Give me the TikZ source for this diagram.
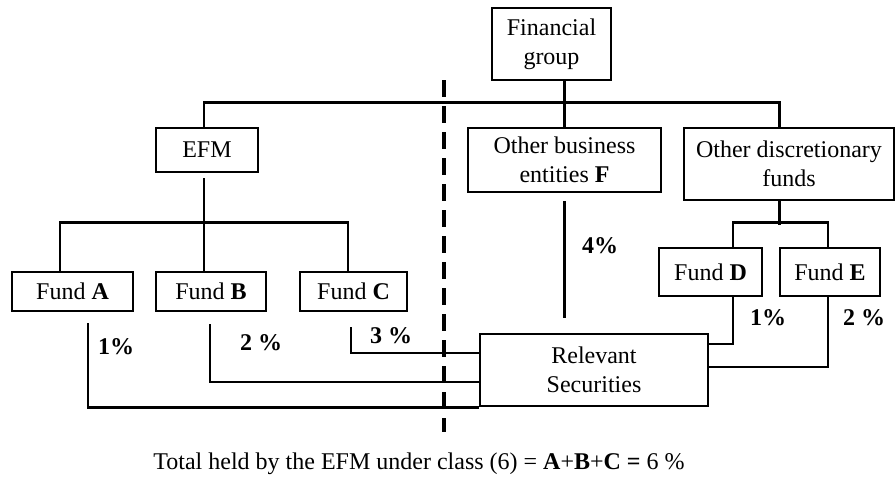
\documentclass[tikz,border=0pt]{standalone}
\usepackage{fontspec}
\setmainfont{Liberation Serif}
\usetikzlibrary{calc}
\begin{document}
\begin{tikzpicture}[x=0.5pt,y=-0.5pt,
  box/.style={draw, line width=1.3pt, inner sep=0pt, align=center, font=\fontsize{12}{14.5}\selectfont},
  conn/.style={line width=1.3pt},
  pct/.style={font=\fontsize{12}{14}\selectfont\bfseries, inner sep=0pt},
  dashline/.style={line width=2pt, dash pattern=on 8.5pt off 4.5pt}]
\useasboundingbox (0,0) rectangle (896,478);
% boxes
\node[box, minimum width=59.5pt, minimum height=36pt] (G) at (551.5,44) {Financial\\group};
\node[box, minimum width=51pt, minimum height=22pt] (EFM) at (207,150) {EFM};
\node[box, minimum width=96.5pt, minimum height=32pt] (F) at (564.5,160) {Other business\\entities \textbf{F}};
\node[box, minimum width=105pt, minimum height=36pt] (ODF) at (789,164) {Other discretionary\\funds};
\node[box, minimum width=60.5pt, minimum height=19.5pt] (A) at (72.5,291.5) {Fund \textbf{A}};
\node[box, minimum width=55pt, minimum height=19.5pt] (B) at (211,291.5) {Fund \textbf{B}};
\node[box, minimum width=53.5pt, minimum height=19.5pt] (C) at (353.5,291.5) {Fund \textbf{C}};
\node[box, minimum width=51.5pt, minimum height=24pt] (D) at (710.5,272) {Fund \textbf{D}};
\node[box, minimum width=50pt, minimum height=24pt] (E) at (830,272) {Fund \textbf{E}};
\node[box, minimum width=114pt, minimum height=36pt] (RS) at (594,370) {Relevant\\Securities};
% tree lines
\draw[conn] (F.north |- G.south) -- (F.north);
\draw[conn] ($(EFM.north)+(-3,0)$) |- ($(ODF.north)+(-9.5,-24)$) -- ($(ODF.north)+(-9.5,0)$);
\draw[conn] ($(EFM.south)+(-3,5)$) -- ++(0,47);
\draw[conn] ($(A.north)+(-12.5,0)$) -- ++(0,-48) -| ($(C.north)+(-5.5,0)$);
\draw[conn] ($(B.north)+(-7,0)$) -- ++(0,-48);
\draw[conn] ($(ODF.south)+(-9.5,0)$) -- ++(0,24);
\draw[conn] ($(D.north)+(22.5,0)$) -- ++(0,-24) -| ($(E.north)+(-2,0)$);
% holdings
\draw[conn] ($(A.south)+(15.5,11)$) |- (RS.south west);
\draw[conn] ($(B.south)+(-1,12)$) |- ($(RS.west)+(0,12)$);
\draw[conn] ($(C.south)+(-2.5,15)$) |- ($(RS.west)+(0,-17)$);
\draw[conn] ($(F.south)+(0,8)$) -- ($(F.south |- RS.north)+(0,-15)$);
\draw[conn] ($(D.south)+(22.5,0)$) |- ($(RS.east)+(0,-26)$);
\draw[conn] ($(E.south)+(-2,0)$) |- ($(RS.east)+(0,-3)$);
% labels
\node[pct] (pA) at (116,347) {1\%};
\node[pct] (pB) at (261,343) {2 \%};
\node[pct] (pC) at (391,336) {3 \%};
\node[pct] (pF) at (600,246) {4\%};
\node[pct] (pD) at (768,318) {1\%};
\node[pct] (pE) at (864,318) {2 \%};
% dashed separator
\coordinate (dtop) at (444,80);
\coordinate (dbot) at (444,432);
\draw[dashline] (dtop) -- (dbot);
% caption
\node[inner sep=0pt, font=\fontsize{12}{14}\selectfont] (cap) at (419,464) {Total held by the EFM under class (6) = \textbf{A}+\textbf{B}+\textbf{C =} 6 \%};
\end{tikzpicture}
\end{document}
